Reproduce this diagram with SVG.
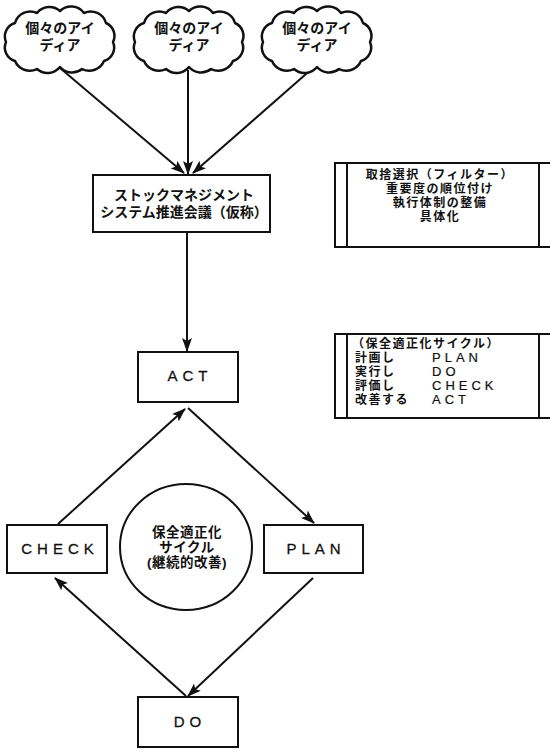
<svg xmlns="http://www.w3.org/2000/svg" width="550" height="749" viewBox="0 0 550 749">
<style>
.box{fill:#fff;stroke:#111;stroke-width:2}
.cloud{fill:#fff;stroke:#111;stroke-width:2.5;stroke-linejoin:round}
.jp{font-family:"Liberation Sans","Noto Sans CJK JP",sans-serif;font-size:14px;font-weight:bold;fill:#111}
.jpc{font-family:"Liberation Sans","Noto Sans CJK JP",sans-serif;font-size:13.5px;font-weight:bold;fill:#111;letter-spacing:0.5px}
.jps{font-family:"Liberation Sans","Noto Sans CJK JP",sans-serif;font-size:12px;font-weight:bold;fill:#111;letter-spacing:1.5px}
.en{font-family:"Liberation Sans",Arial,sans-serif;font-size:15px;fill:#111;stroke:#111;stroke-width:0.3;letter-spacing:5px}
.ens{font-family:"Liberation Sans",Arial,sans-serif;font-size:13px;fill:#111;stroke:#111;stroke-width:0.2;letter-spacing:4px}
.ln{stroke:#111;stroke-width:2;fill:none}
</style>
<defs>
<marker id="ah" markerWidth="14" markerHeight="10" refX="13" refY="5" orient="auto" markerUnits="userSpaceOnUse">
<path d="M0,0 L14,5 L0,10 L3,5 Z" fill="#111"/>
</marker>
<path id="cl" d="M-45,-17 A16,16 0 0 1 -23,-27 A16,16 0 0 1 0,-29 A16,16 0 0 1 24,-27 A16,16 0 0 1 46,-17 A14,14 0 0 1 53,2 A14,14 0 0 1 44,21 A16,16 0 0 1 22,29 A16,16 0 0 1 0,27 A16,16 0 0 1 -23,29 A16,16 0 0 1 -45,21 A14,14 0 0 1 -54,2 A14,14 0 0 1 -45,-17 Z"/>
</defs>
<rect width="550" height="749" fill="#fff"/>
<g id="connectors">
<line class="ln" x1="60" y1="68" x2="184" y2="173" marker-end="url(#ah)"/>
<line class="ln" x1="188" y1="70" x2="188" y2="174" marker-end="url(#ah)"/>
<line class="ln" x1="314" y1="67" x2="193" y2="173" marker-end="url(#ah)"/>
<line class="ln" x1="187" y1="233" x2="187" y2="351" marker-end="url(#ah)"/>
<line class="ln" x1="58" y1="524" x2="185" y2="409" marker-end="url(#ah)"/>
<line class="ln" x1="188" y1="408" x2="314" y2="523" marker-end="url(#ah)"/>
<line class="ln" x1="313" y1="578" x2="188" y2="696" marker-end="url(#ah)"/>
<line class="ln" x1="186" y1="696" x2="55" y2="578" marker-end="url(#ah)"/>
</g>
<g id="idea1">
<use href="#cl" class="cloud" transform="translate(60,40)"/>
<text class="jp" text-anchor="middle"><tspan x="60" y="33">個々のアイ</tspan><tspan x="60" y="50">ディア</tspan></text>
</g>
<g id="idea2">
<use href="#cl" class="cloud" transform="translate(189,40)"/>
<text class="jp" text-anchor="middle"><tspan x="189" y="33">個々のアイ</tspan><tspan x="189" y="50">ディア</tspan></text>
</g>
<g id="idea3">
<use href="#cl" class="cloud" transform="translate(317,40)"/>
<text class="jp" text-anchor="middle"><tspan x="317" y="33">個々のアイ</tspan><tspan x="317" y="50">ディア</tspan></text>
</g>
<g id="meeting">
<rect class="box" x="93" y="175" width="177" height="57"/>
<text class="jp" text-anchor="middle"><tspan x="184" y="200">ストックマネジメント</tspan><tspan x="184" y="217">システム推進会議（仮称）</tspan></text>
</g>
<g id="act">
<rect class="box" x="138" y="352" width="100" height="50"/>
<text class="en" x="190" y="381" text-anchor="middle">ACT</text>
</g>
<g id="check">
<rect class="box" x="7" y="525" width="100" height="48"/>
<text class="en" x="60" y="554" text-anchor="middle">CHECK</text>
</g>
<g id="plan">
<rect class="box" x="264" y="525" width="99" height="48"/>
<text class="en" x="316" y="554" text-anchor="middle">PLAN</text>
</g>
<g id="do">
<rect class="box" x="138" y="697" width="100" height="50"/>
<text class="en" x="190" y="727" text-anchor="middle">DO</text>
</g>
<g id="cycle">
<ellipse cx="186" cy="547" rx="66" ry="63" fill="#fff" stroke="#111" stroke-width="2"/>
<text class="jpc" text-anchor="middle"><tspan x="187" y="537">保全適正化</tspan><tspan x="187" y="552">サイクル</tspan><tspan x="187" y="567">(継続的改善)</tspan></text>
</g>
<g id="note1">
<rect class="box" x="335" y="163" width="230" height="84"/>
<line class="ln" x1="347" y1="163" x2="347" y2="247"/>
<line class="ln" x1="539" y1="163" x2="539" y2="247"/>
<text class="jps" text-anchor="middle"><tspan x="440" y="179">取捨選択（フィルター）</tspan><tspan x="440" y="193">重要度の順位付け</tspan><tspan x="440" y="207">執行体制の整備</tspan><tspan x="440" y="221">具体化</tspan></text>
</g>
<g id="note2">
<rect class="box" x="335" y="334" width="230" height="84"/>
<line class="ln" x1="347" y1="334" x2="347" y2="418"/>
<line class="ln" x1="539" y1="334" x2="539" y2="418"/>
<text class="jps"><tspan x="352" y="348">（保全適正化サイクル）</tspan><tspan x="355" y="362">計画し</tspan><tspan x="355" y="376">実行し</tspan><tspan x="355" y="390">評価し</tspan><tspan x="355" y="404">改善する</tspan></text>
<text class="ens"><tspan x="432" y="362">PLAN</tspan><tspan x="432" y="376">DO</tspan><tspan x="432" y="390">CHECK</tspan><tspan x="432" y="404">ACT</tspan></text>
</g>
</svg>
